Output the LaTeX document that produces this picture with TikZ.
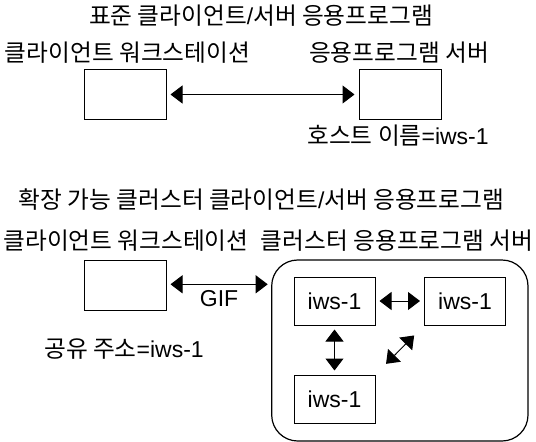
\documentclass[tikz,border=0pt]{standalone}
\usepackage{fontspec}
\setmainfont{Liberation Sans}
\newfontfamily\kr{Noto Sans CJK KR}[Scale=1.03]
\usetikzlibrary{arrows.meta}

\begin{document}
\begin{tikzpicture}[x=1pt,y=-1pt,
  lbl/.style={inner sep=0pt, font=\fontsize{23}{27}\selectfont},
  box/.style={draw, line width=1pt, minimum width=82pt, minimum height=50pt,
    inner sep=0pt, font=\fontsize{23}{27}\selectfont},
  node box/.style={box, minimum width=81pt, minimum height=48pt},
  link/.style={line width=1pt,
    {Triangle[length=12pt,width=18pt]}-{Triangle[length=12pt,width=18pt]},
    shorten <=4pt, shorten >=4pt}]
  \useasboundingbox (0,0) rectangle (536,442);

  % standard client/server application
  \node[lbl] (title1) at (261,16) {{\kr 표준 클라이언트}/{\kr 서버 응용프로그램}};
  \node[lbl] (clientlbl1) at (127.5,53) {\kr 클라이언트 워크스테이션};
  \node[lbl] (serverlbl1) at (399,53) {\kr 응용프로그램 서버};
  \node[box] (client1) at (125,94.5) {};
  \node[box] (server1) at (400,94.5) {};
  \node[lbl] (host) at (398,136) {{\kr 호스트 이름}=iws-1};
  \draw[link] (client1) -- (server1);

  % scalable cluster client/server application
  \node[lbl] (title2) at (261.5,200) {{\kr 확장 가능 클러스터 클라이언트}/{\kr 서버 응용프로그램}};
  \node[lbl] (clientlbl2) at (126,241) {\kr 클라이언트 워크스테이션};
  \node[lbl] (clusterlbl) at (397,241) {\kr 클러스터 응용프로그램 서버};
  \node[box] (client2) at (125,285) {};
  \node[lbl] (shared) at (124,349) {{\kr 공유 주소}=iws-1};

  \draw[line width=1.2pt, rounded corners=26pt] (271.7,260) rectangle (528,441);
  \coordinate (cluster) at (271.7,284.3);

  \node[node box] (n1) at (334.5,301) {iws-1};
  \node[node box] (n2) at (465,301) {iws-1};
  \node[node box] (n3) at (334.5,399) {iws-1};

  \draw[link] (client2.east |- cluster) -- node[lbl, below=6pt] {GIF} (cluster);
  \draw[link] (n1) -- (n2);
  \draw[link] (n1) -- (n3);
  \draw[link, shorten <=15pt, shorten >=14pt] (n3.north east) -- (n2.south west);
\end{tikzpicture}
\end{document}
